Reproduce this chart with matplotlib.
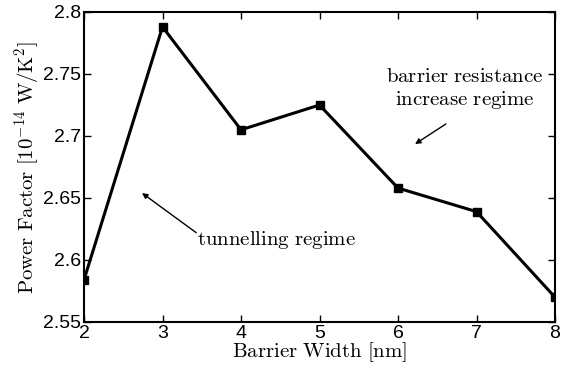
import matplotlib
matplotlib.use("Agg")
import matplotlib.pyplot as plt

plt.rcParams['mathtext.fontset'] = 'cm'
plt.rcParams['font.family'] = ['Liberation Sans', 'DejaVu Sans']

barrier_width = [2, 3, 4, 5, 6, 7, 8]
power_factor = [2.584, 2.788, 2.705, 2.725, 2.658, 2.639, 2.570]
x_ticks = [2, 3, 4, 5, 6, 7, 8]
y_ticks = [2.55, 2.6, 2.65, 2.7, 2.75, 2.8]
y_tick_labels = ['2.55', '2.6', '2.65', '2.7', '2.75', '2.8']

fig = plt.figure(figsize=(5.76, 3.73), dpi=100)
ax = fig.add_axes([84/576, 1-322/373, (555-84)/576, (322-12)/373])
ax.plot(barrier_width, power_factor, color='black', lw=2.2, marker='s', ms=6)
ax.set_xlim(2, 8)
ax.set_ylim(2.55, 2.8)
ax.set_xticks(x_ticks)
ax.set_yticks(y_ticks)
ax.set_yticklabels(y_tick_labels)
ax.tick_params(direction='in', top=True, right=True, labelsize=14, length=5, width=1, pad=2)
for s in ax.spines.values():
    s.set_linewidth(1.5)
ax.set_xlabel(r'$\mathrm{Barrier\ Width\ [nm]}$', fontsize=15, labelpad=-1)
ax.set_ylabel(r'$\mathrm{Power\ Factor\ [10^{-14}\ W/K^2]}$', fontsize=15, labelpad=1)

arrow_style = dict(arrowstyle='-|>', color='black', lw=1, mutation_scale=8,
                   shrinkA=0, shrinkB=0)
ax.text(3.44, 2.616, r'$\mathrm{tunnelling\ regime}$', fontsize=15, va='center', ha='left')
ax.annotate('', xy=(2.739, 2.654), xytext=(3.43, 2.622), arrowprops=arrow_style)
ax.text(6.85, 2.738, r'$\mathrm{barrier\ resistance}$' + '\n' + r'$\mathrm{increase\ regime}$',
        fontsize=15, ha='center', va='center', linespacing=1.2)
ax.annotate('', xy=(6.217, 2.6935), xytext=(6.61, 2.7097), arrowprops=arrow_style)

fig.savefig('out.png', dpi=100)
